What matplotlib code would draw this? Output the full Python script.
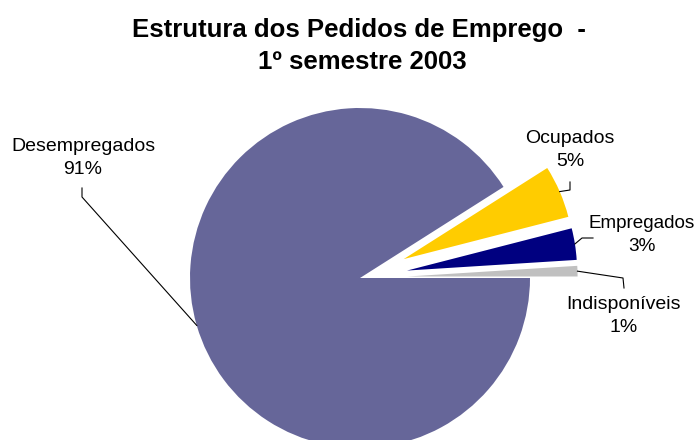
import numpy as np
import matplotlib
matplotlib.use("Agg")
import matplotlib.pyplot as plt

plt.rcParams['font.family'] = ['Liberation Sans', 'DejaVu Sans']

categories = ["Indisponíveis", "Empregados", "Ocupados", "Desempregados"]
values = [1, 3, 5, 91]
pct_labels = ["1%", "3%", "5%", "91%"]
colors = ["#C0C0C0", "#000080", "#FFCC00", "#666699"]
explode_frac = [0.28, 0.28, 0.28, 0.0]

W, H = 698, 440
fig = plt.figure(figsize=(W / 100, H / 100), dpi=100)
ax = fig.add_axes([0, 0, 1, 1])

cx, cy, R = 360, H - 278, 170
explode = [e * R for e in explode_frac]
wedges, _ = ax.pie(values, colors=colors, explode=explode, startangle=0,
                   counterclock=True, center=(cx, cy), radius=R,
                   wedgeprops=dict(linewidth=0), frame=True)
ax.set_xlim(0, W)
ax.set_ylim(0, H)
ax.set_aspect('equal')
ax.axis('off')

# label positions (pixel coords, top-origin) and leader elbow points
label_pos = {
    "Desempregados": (83, 158),
    "Ocupados": (570, 150),
    "Empregados": (642, 235),
    "Indisponíveis": (624, 316),
}
elbows = {
    "Desempregados": [(82, 197), (82, 188)],
    "Ocupados": [(570, 190), (570, 182)],
    "Empregados": [(582, 238), (593, 238)],
    "Indisponíveis": [(623, 278), (624, 288)],
}

for w, cat, pct, ex in zip(wedges, categories, pct_labels, explode):
    mid = np.deg2rad((w.theta1 + w.theta2) / 2)
    ox = cx + ex * np.cos(mid)
    oy = cy + ex * np.sin(mid)
    px = ox + R * np.cos(mid)
    py = oy + R * np.sin(mid)
    pts = [(px, py)] + [(x, H - y) for x, y in elbows[cat]]
    xs, ys = zip(*pts)
    ax.plot(xs, ys, color="black", linewidth=0.8)
    lx, ly = label_pos[cat]
    fs = 13.6 if cat == "Empregados" else 14
    ax.text(lx, H - ly, f"{cat}\n{pct}", ha="center", va="center",
            fontsize=fs, linespacing=1.45, color="black")

ax.text(359, H - 30, "Estrutura dos Pedidos de Emprego  -", ha="center",
        va="center", fontsize=18.5, fontweight="bold")
ax.text(362, H - 62, "1º semestre 2003", ha="center", va="center",
        fontsize=18.5, fontweight="bold")

fig.savefig("out.png", dpi=100)
